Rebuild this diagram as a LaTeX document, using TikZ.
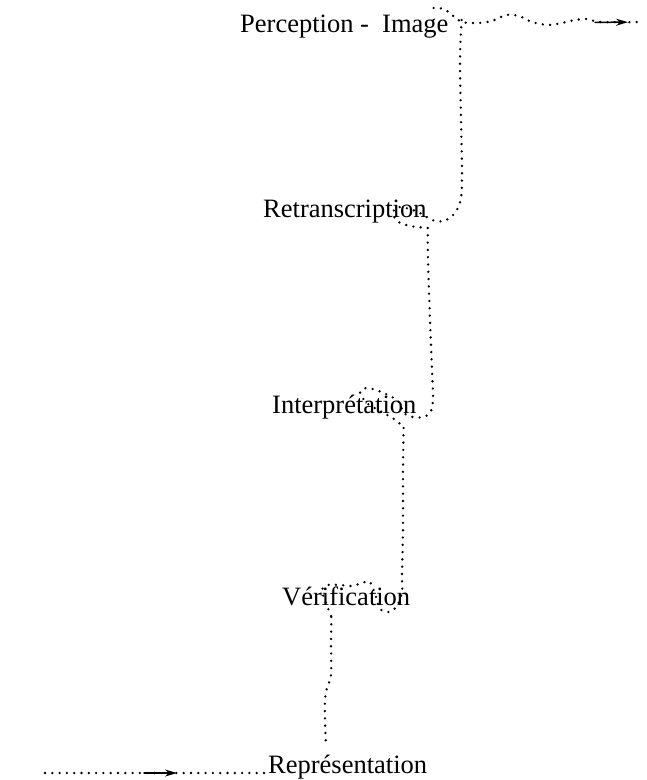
\documentclass[tikz,border=0pt]{standalone}
\usepackage{fontspec}
\setmainfont{Liberation Serif}
\usetikzlibrary{arrows.meta,decorations.markings}
\tikzset{
  stage/.style ={inner sep=0pt, anchor=base west, font=\fontsize{26.5}{30}\selectfont},
  trail/.style ={line width=2.6pt, line cap=round, dash pattern=on 0pt off 7.3pt},
  midarr/.style={postaction={decorate}, decoration={markings, mark=at position #1 with {\draw[solid, line width=1.5pt, -{Stealth[length=12pt,width=7pt]}] (-33pt,0pt) -- (0pt,0pt);}}},
}

\begin{document}
\begin{tikzpicture}[x=1pt, y=-1pt]
  \useasboundingbox (0,0) rectangle (646,780);
  % stages, top to bottom
  \node[stage] (img)    at (240,32)  {Perception -\ \ Image};
  \node[stage] (retr)   at (263,217) {Retranscription};
  \node[stage] (interp) at (272,413) {Interprétation};
  \node[stage] (verif)  at (282,605) {Vérification};
  \node[stage] (rep)    at (268,773) {Représentation};
  \coordinate (in)  at (45,773);
  \coordinate (out) at (643,22);
  % input and output
  \draw[trail, midarr=132pt] (in) -- ([xshift=-4pt]rep.base west);
  \draw[trail, midarr=-15pt] plot[smooth, tension=0.5] coordinates {
    ([xshift=-15pt,yshift=24pt]img.base east) (444,9) (452,15) (462,22) (478,23) (492,21)
    (506,15) (519,16) (532,22) (548,25) (562,23) (575,20) (588,19) (600,22) (out)};
  % dotted trail between the stages
  \draw[trail] plot[smooth, tension=0.5] coordinates {
    ([xshift=13pt,yshift=12pt]img.base east) (460,60) (461,120) (462,170) (461,198)
    (455,213) (444,221) (432,220) (422,214) (410,209) (398,207) (393,212) (397,221)
    (410,226) ([xshift=1pt,yshift=-11pt]retr.base east)};
  \draw[trail] plot[smooth, tension=0.5] coordinates {
    ([xshift=1pt,yshift=-11pt]retr.base east) (428,260) (430,320) (432,370) (433,398)
    (431,411) (424,417) (413,417) (404,413) (398,401) (388,395) (376,390) (366,388)
    (360,393) (368,404) (384,413) (397,421) ([xshift=-13pt,yshift=-15pt]interp.base east)};
  \draw[trail] plot[smooth, tension=0.5] coordinates {
    ([xshift=-13pt,yshift=-15pt]interp.base east) (403,470) (403,530) (402,575) (402,592)
    (397,606) (389,612) (380,609) (376,597) (370,582) (362,583) (352,586) (340,585)
    (328,585) (322,590) (326,603) ([xshift=-79pt,yshift=-12pt]verif.base east)};
  \draw[trail] plot[smooth, tension=0.5] coordinates {
    ([xshift=-79pt,yshift=-12pt]verif.base east) (331,645) (331,675) (327,688) (325,700)
    (325,722) ([xshift=58pt,yshift=28pt]rep.base west)};
\end{tikzpicture}
\end{document}
